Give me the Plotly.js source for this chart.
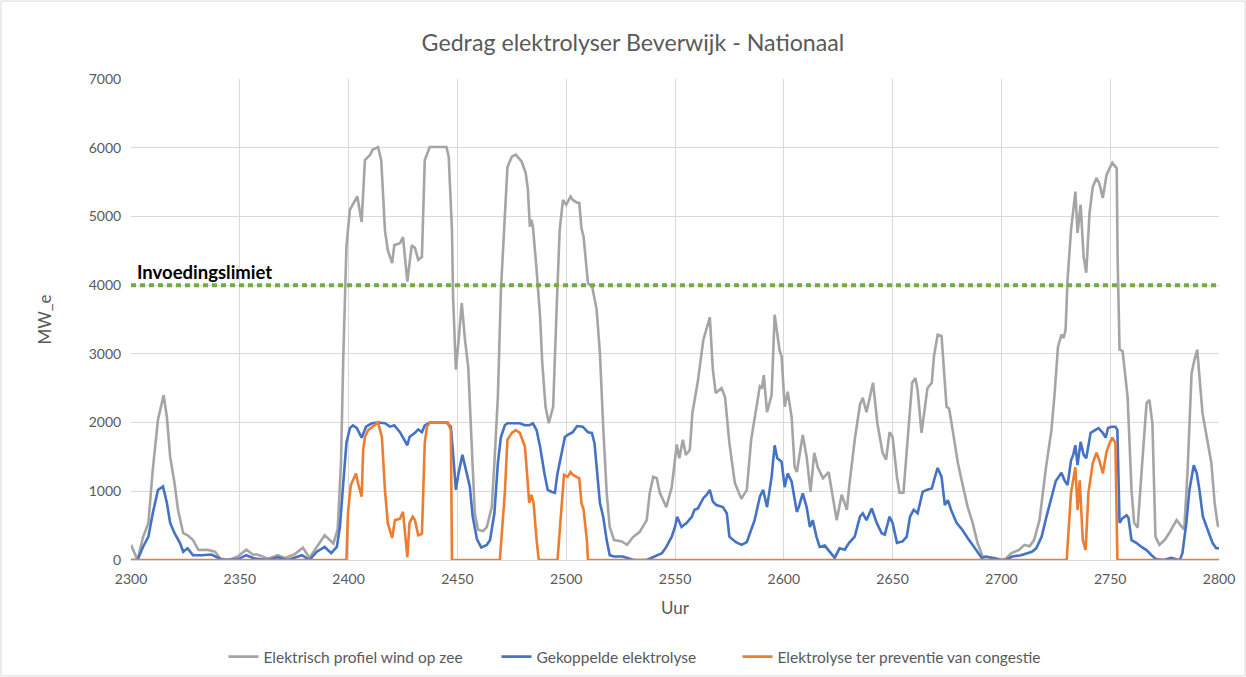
<!DOCTYPE html>
<html>
<head>
<meta charset="utf-8">
<script src="https://cdn.plot.ly/plotly-3.0.1.min.js"></script>
<style>
  html, body { margin: 0; padding: 0; background: #ffffff; }
  #chart { width: 1246px; height: 677px; }
</style>
</head>
<body>
<div id="chart"></div>
<script>
// ---- Data ----
const chartTitle = "Gedrag elektrolyser Beverwijk - Nationaal";
const xTitle = "Uur";
const yTitle = "MW_e";
const seriesNames = ["Elektrisch profiel wind op zee", "Gekoppelde elektrolyse", "Elektrolyse ter preventie van congestie"];
const limitLabel = "Invoedingslimiet";
const limitValue = 4000;
const limitHours = [2300, 2800];

const windHours = [2300,2303,2305.5,2308,2310,2312.4,2315,2316.5,2318,2320,2321.6,2324,2326,2328.5,2331,2335,2338.6,2341,2345,2349,2353,2356,2358,2363,2367.5,2370.7,2375,2379,2382,2385.4,2389,2391.4,2393,2395,2396.5,2397.5,2399,2400.6,2402,2404,2406,2407.5,2410,2411,2413.5,2415,2416.7,2418,2420,2421,2423.6,2425,2427,2429,2430.5,2432,2433.7,2435,2437.3,2445,2446,2447.5,2448,2449.3,2450.7,2452,2453.5,2455,2456.6,2458,2459.5,2461.8,2463.5,2465.8,2467,2468.6,2470,2471.8,2473,2475,2476.8,2479.5,2481.4,2482.4,2483.3,2484,2484.7,2486.4,2488,2489,2490.5,2492,2494,2495.7,2497,2498.5,2500,2502,2503,2505,2506,2507,2508,2510,2512,2514,2515.5,2517,2518.6,2520,2522,2525.5,2528,2530.6,2533.8,2537,2538.4,2540,2541.6,2543,2546,2548.5,2550,2550.8,2552,2553.6,2555,2556.8,2558,2560.5,2563,2566,2567.4,2568.7,2571.4,2573,2575,2577.5,2580.5,2583,2585,2587.5,2589,2590,2590.8,2592.3,2594.4,2595.8,2598,2599,2600.4,2601.8,2603.6,2605,2606,2608.7,2610.5,2612.3,2614,2615.6,2618,2620.6,2622.4,2624.3,2626.6,2629,2630,2632.6,2635,2636.3,2638,2641,2643,2645.4,2647,2648.6,2650,2652,2653.2,2655,2657,2659,2660.5,2661.5,2663.3,2664.7,2666,2668,2669,2670.7,2672.5,2674.8,2676,2677.6,2680,2682,2684.5,2686.8,2689,2691.4,2694.6,2697,2700,2702,2704.6,2708,2710.6,2713,2715,2717.5,2720.5,2723,2724.4,2726,2727.6,2728.6,2729.5,2730.4,2732,2734,2735,2736.4,2737.8,2739,2740.5,2742,2743.7,2745,2746.6,2748.3,2749.7,2751,2753,2753.4,2754.3,2755.7,2758,2759.8,2761,2762.6,2764.8,2766.7,2768,2769.4,2770.8,2772.6,2775,2777.3,2780.5,2782.8,2784,2785.5,2787.4,2788.7,2790,2792.4,2794,2796.5,2798,2799.4,2800];
const windMW = [220,0,330,540,1310,2040,2400,2080,1500,1120,730,390,360,290,145,150,120,20,0,50,150,80,80,20,70,30,80,180,30,200,360,290,240,450,1400,2870,4560,5100,5170,5290,4920,5820,5900,5970,6010,5820,4800,4510,4320,4580,4610,4700,4050,4580,4540,4370,4410,5820,6010,6010,5870,4800,3830,2770,3250,3740,3200,2800,1650,680,440,420,480,770,1410,2370,3930,4990,5720,5870,5900,5800,5630,5390,4850,4950,4850,4220,3540,2870,2230,1990,2230,3740,4800,5240,5170,5290,5240,5200,5200,4830,4700,4030,3970,3640,3010,1940,980,480,290,270,220,330,410,580,980,1210,1190,980,770,1060,1450,1680,1480,1750,1530,1600,2140,2600,3200,3530,2770,2430,2500,2370,1700,1120,890,1020,1750,2230,2530,2510,2690,2150,2400,3570,3060,2960,2230,2450,2080,1350,1280,1820,1500,990,1560,1350,1190,1280,920,580,950,730,1060,1750,2260,2360,2150,2580,1990,1560,1460,1860,1790,1210,980,980,1790,2580,2650,2470,1850,2180,2500,2580,2960,3280,3260,2230,2200,1890,1410,1120,770,540,250,50,40,30,0,20,100,145,220,200,290,580,1350,1890,2400,3100,3280,3230,3350,4080,4800,5360,4760,5170,4410,4180,5050,5430,5560,5480,5270,5600,5700,5780,5700,4410,3060,3040,2370,1020,540,470,1450,2280,2330,1990,340,220,290,400,580,480,440,1260,2720,2910,3060,2140,1850,1410,830,510,480];

const coupledHours = [2300,2303,2305.5,2308,2310,2312.4,2314.7,2316.5,2318,2320,2322.5,2324,2326,2328.5,2332.6,2337,2342,2349,2353,2357,2363,2367.5,2372,2378.6,2382,2385.4,2389,2392,2394.6,2396,2397.5,2399,2400.6,2402,2403.8,2406,2408,2410.7,2413.5,2416.7,2419,2421,2423.6,2425,2427,2428,2430.5,2432,2433.7,2435,2437.3,2445,2447,2448,2449.3,2450.5,2452.3,2454,2455.7,2457,2459,2461,2463.5,2465,2467,2468.6,2470,2471.8,2473,2478.7,2481,2483,2484.7,2486.4,2488,2490,2491.5,2493.4,2494.8,2496,2498,2499.4,2500.7,2503,2505,2507.6,2510,2511.8,2513,2514.5,2515.5,2517,2518.6,2520,2522,2526,2528,2531,2537,2540.7,2544,2546,2548.5,2550,2551,2553,2555.4,2557.7,2559,2560.5,2563,2564.6,2566,2567.4,2569,2572,2573.8,2575,2578,2580.6,2583,2585,2586.6,2589,2590.5,2592.3,2594.4,2595.8,2597,2599,2600.4,2601.8,2603.6,2606,2607,2608.7,2610.5,2612,2613.3,2615,2616.5,2618.8,2621,2623.4,2625.6,2628,2630,2632.6,2635,2636.3,2638,2640.4,2642.7,2645,2646.4,2648.6,2650,2652,2654.6,2656.5,2658,2659.7,2661.5,2663.8,2665.6,2668,2669.3,2670.7,2672.5,2674,2675.4,2677,2679.4,2682,2684.5,2686.8,2689,2691,2693,2696,2698,2700,2702,2705,2709,2711.5,2714,2716,2718.5,2720.7,2723,2725,2727.6,2729,2730.4,2732,2733,2734,2735,2736.4,2737.8,2739,2741,2742.8,2744.6,2746.6,2747.9,2749,2750.6,2752.4,2753.3,2754.3,2755.7,2757.5,2758.4,2759.8,2762,2764.4,2766.7,2769,2771,2774.5,2778,2780.5,2782,2783.2,2785,2786.4,2787.8,2788.4,2789.8,2791,2792.6,2794,2795.6,2797,2798.7,2800];
const coupledMW = [0,0,190,340,680,1020,1070,830,540,390,250,120,170,70,70,80,0,10,70,20,0,40,0,70,0,120,190,100,190,480,1100,1700,1920,1960,1920,1780,1940,1990,2000,1990,1940,1960,1860,1790,1670,1790,1850,1900,1860,1960,2000,2000,1940,1550,1020,1260,1530,1300,1070,640,300,180,220,290,680,1410,1790,1960,1990,1990,1960,1960,1990,1890,1650,1260,1020,990,980,1260,1600,1790,1820,1860,1950,1940,1860,1850,1700,1210,830,630,290,70,50,50,30,0,0,50,100,190,340,480,630,480,540,630,730,750,900,950,1020,850,800,770,680,340,260,220,260,440,580,920,1020,770,1210,1670,1480,1430,1060,1260,1140,700,780,970,770,480,580,340,190,210,120,30,170,150,250,340,630,680,580,750,540,390,370,630,540,250,270,340,630,730,680,990,1020,1040,1190,1340,1210,800,870,720,540,440,320,220,120,30,50,30,10,0,0,50,70,100,120,170,340,630,920,1150,1270,1160,1090,1450,1530,1670,1380,1720,1530,1480,1850,1890,1920,1850,1780,1920,1940,1940,1890,540,610,650,610,290,250,190,145,70,15,0,30,10,0,100,540,1020,1310,1380,1260,1020,630,510,390,250,170,170];

const congestionHours = [2300,2399,2399.7,2401,2402,2403.4,2404.3,2406,2406.7,2407.5,2409,2411,2413.5,2415.3,2416.7,2418,2420,2421.3,2423.6,2425,2427,2428,2429.5,2430.5,2432,2433.7,2435,2436,2437.3,2445.6,2447,2447.5,2469.5,2471.8,2473,2475,2476.8,2478.7,2481,2482,2483,2484,2485,2486.4,2487.4,2496,2498,2499,2500.7,2502,2503,2505,2506,2507,2508,2509.5,2510,2730,2732,2734,2735,2736,2737.4,2738.7,2740,2742,2743.7,2745,2746.6,2748.3,2749.7,2751,2752.4,2753.3,2800];
const congestionMW = [0,0,680,1090,1160,1260,1120,920,1600,1790,1890,1940,2000,1790,1020,540,320,580,600,700,40,540,630,580,360,380,1700,1940,2000,2000,1890,0,0,980,1750,1850,1890,1850,1650,1260,830,950,830,290,0,0,770,1240,1210,1280,1240,1210,1190,830,730,290,0,0,980,1350,730,1160,290,145,980,1410,1560,1450,1260,1570,1700,1780,1700,0,0];

// ---- Styling ----
const FONT = "Lato, 'Noto Sans', sans-serif";
const TXT = "#595959";
const GRID = "#D9D9D9";
const legendWidths = [228, 196, 262];

const traces = [
  { x: windHours, y: windMW, name: seriesNames[0], type: "scatter", mode: "lines",
    legendwidth: legendWidths[0], line: { color: "#A5A5A5", width: 2.6 } },
  { x: coupledHours, y: coupledMW, name: seriesNames[1], type: "scatter", mode: "lines",
    legendwidth: legendWidths[1], line: { color: "#4472C4", width: 2.6 } },
  { x: congestionHours, y: congestionMW, name: seriesNames[2], type: "scatter", mode: "lines",
    legendwidth: legendWidths[2], line: { color: "#ED7D31", width: 2.6 } },
  { x: limitHours, y: limitHours.map(() => limitValue), name: limitLabel, type: "scatter", mode: "lines",
    showlegend: false, line: { color: "#70AD47", width: 4, dash: "5px,4px" } }
];

const layout = {
  width: 1246, height: 677,
  paper_bgcolor: "#ffffff", plot_bgcolor: "#ffffff",
  margin: { l: 131, r: 27, t: 79, b: 117, autoexpand: false },
  font: { family: FONT, color: TXT, size: 14 },
  title: { text: chartTitle, font: { family: FONT, size: 23.2, color: TXT },
           x: 0.508, xanchor: "center", y: 0.936, yanchor: "middle", yref: "container" },
  xaxis: {
    range: [2300, 2800], dtick: 50, tick0: 2300, automargin: false,
    showgrid: true, gridcolor: GRID, gridwidth: 1,
    zeroline: false, showline: false,
    ticks: "outside", ticklen: 6, tickcolor: "rgba(0,0,0,0)", tickfont: { size: 14, color: TXT },
    title: { text: xTitle, font: { size: 17, color: TXT }, standoff: 16 }
  },
  yaxis: {
    range: [0, 7000], dtick: 1000, tick0: 0, automargin: false,
    showgrid: true, gridcolor: GRID, gridwidth: 1,
    zeroline: true, zerolinecolor: GRID, zerolinewidth: 1, showline: false,
    ticks: "outside", ticklen: 6, tickcolor: "rgba(0,0,0,0)", tickfont: { size: 14, color: TXT },
    title: { text: yTitle, font: { size: 17, color: TXT }, standoff: 32 }
  },
  showlegend: true,
  legend: { orientation: "h", xref: "paper", x: 0.085, xanchor: "left",
            yref: "container", y: 1 - 657 / 677, yanchor: "middle",
            font: { size: 15.5, color: TXT }, traceorder: "normal" },
  annotations: [
    { x: 2302, y: limitValue, xref: "x", yref: "y", xanchor: "left", yanchor: "bottom",
      yshift: 0, text: "<b>" + limitLabel + "</b>", showarrow: false,
      font: { family: FONT, size: 18.5, color: "#000000" } }
  ],
  shapes: [
    { type: "rect", xref: "paper", yref: "paper", x0: -0.1195, x1: 1.0239, y0: -0.241, y1: 1.162,
      line: { color: "#D9D9D9", width: 1 }, fillcolor: "rgba(0,0,0,0)", layer: "below" }
  ]
};

Plotly.newPlot("chart", traces, layout, { displayModeBar: false, staticPlot: true });
</script>
</body>
</html>
